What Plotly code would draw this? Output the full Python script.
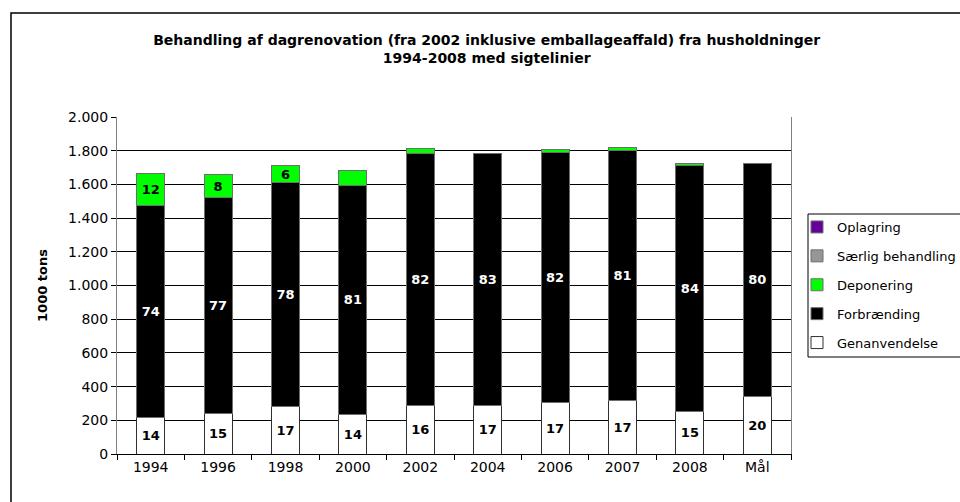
import plotly.graph_objects as go

# Kategorier (x-akse)
aar = ["1994", "1996", "1998", "2000", "2002", "2004", "2006", "2007", "2008", "Mål"]

# Mængder i 1000 tons
genanvendelse = [215, 242, 279, 233, 287, 287, 304, 315, 251, 340]
forbraending = [1257, 1283, 1333, 1363, 1495, 1495, 1488, 1485, 1460, 1387]
deponering = [194, 131, 99, 85, 34, 0, 16, 18, 14, 0]
saerlig = [0, 0, 0, 0, 0, 0, 0, 0, 0, 0]
oplagring = [0, 0, 0, 0, 0, 0, 0, 0, 0, 0]

# Procent-etiketter
gen_pct = ["14", "15", "17", "14", "16", "17", "17", "17", "15", "20"]
forb_pct = ["74", "77", "78", "81", "82", "83", "82", "81", "84", "80"]
dep_pct = ["12", "8", "6", "", "", "", "", "", "", ""]

FONT = "DejaVu Sans, Arial, sans-serif"
kant = dict(color="#6e6e6e", width=1)
etiket = dict(textposition="inside", insidetextanchor="middle", textangle=0, constraintext="none")

# plotområdet i pixels: x 117..791, y 117..454
def px_x(p):
    return (p - 117) / 674

def px_y(p):
    return (454 - p) / 337

fig = go.Figure()
fig.add_trace(go.Bar(x=aar, y=genanvendelse, name="Genanvendelse", legendgroup="g1", legendrank=5,
                     marker=dict(color="white", line=dict(color="#303030", width=1)),
                     text=gen_pct, textfont=dict(color="black", size=13, family=FONT, weight="bold"), **etiket))
fig.add_trace(go.Bar(x=aar, y=forbraending, name="Forbrænding", legendgroup="g2", legendrank=4,
                     marker=dict(color="black", line=kant),
                     text=forb_pct, textfont=dict(color="white", size=13, family=FONT, weight="bold"), **etiket))
fig.add_trace(go.Bar(x=aar, y=deponering, name="Deponering", legendgroup="g3", legendrank=3,
                     marker=dict(color="#00ff00", line=kant),
                     text=dep_pct, textfont=dict(color="black", size=13, family=FONT, weight="bold"), **etiket))
fig.add_trace(go.Bar(x=aar, y=saerlig, name="Særlig behandling", legendgroup="g4", legendrank=2,
                     marker=dict(color="#969696", line=kant)))
fig.add_trace(go.Bar(x=aar, y=oplagring, name="Oplagring", legendgroup="g5", legendrank=1,
                     marker=dict(color="#660099", line=kant)))

fig.update_layout(
    barmode="stack",
    bargap=0.585,
    width=960, height=502,
    margin=dict(l=117, r=169, t=117, b=48, autoexpand=False),
    paper_bgcolor="white", plot_bgcolor="white",
    separators=",.",
    font=dict(family=FONT, size=14, color="black"),
    uniformtext=dict(mode="show", minsize=13),
    title=dict(text="<b>Behandling af dagrenovation (fra 2002 inklusive emballageaffald) fra husholdninger<br>1994-2008 med sigtelinier</b>",
               x=0.507, xanchor="center", y=0.91, yanchor="top", font=dict(size=14, family=FONT)),
    legend=dict(x=px_x(797), xanchor="left", y=px_y(212), yanchor="top", traceorder="grouped",
                borderwidth=0, bgcolor="rgba(0,0,0,0)", font=dict(size=13, family=FONT),
                itemwidth=30, tracegroupgap=9),
    xaxis=dict(showline=True, linecolor="black", linewidth=1, ticks="outside", tickson="boundaries",
               ticklen=5, tickcolor="black", showgrid=False, tickfont=dict(size=14), automargin=False),
    yaxis=dict(range=[0, 2000], dtick=200, tickformat=",d", showline=True, linecolor="#808080", linewidth=1,
               mirror=True, ticks="outside", ticklen=5, tickcolor="black", showgrid=True, gridcolor="black",
               gridwidth=1, zeroline=False, tickfont=dict(size=14), automargin=False,
               title=dict(text="<b>1000 tons</b>", font=dict(size=13), standoff=17)),
    shapes=[
        # ydre ramme
        dict(type="rect", xref="paper", yref="paper", x0=px_x(11), x1=px_x(975), y0=px_y(520), y1=px_y(13),
             line=dict(color="black", width=1.5), layer="below"),
        # ramme om forklaring
        dict(type="rect", xref="paper", yref="paper", x0=px_x(808), x1=px_x(975), y0=px_y(357), y1=px_y(214),
             line=dict(color="black", width=1), layer="below"),
    ],
)

fig.write_html("out.html", config={"displayModeBar": False}, post_script="document.body.style.margin='0';")
